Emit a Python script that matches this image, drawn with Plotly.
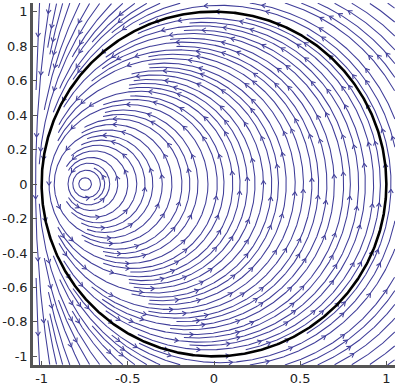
import numpy as np
import plotly.graph_objects as go

# ---- data ----
VORTEX_X = -0.75                 # point vortex on the real axis
IMAGE_X = 1.0 / VORTEX_X         # image vortex making |z| = 1 a streamline
# x where inner streamlines cross the positive side of the axis (y = 0)
INNER_INTERCEPTS = [-0.711, -0.659, -0.634, -0.605, -0.558, -0.50, -0.448, -0.40,
                    -0.355, -0.30, -0.244, -0.186, -0.14, -0.093, -0.035, 0.019,
                    0.058, 0.109, 0.151, 0.194, 0.238, 0.287, 0.335, 0.374, 0.419,
                    0.471, 0.519, 0.568, 0.607, 0.655, 0.698, 0.752, 0.791, 0.839,
                    0.878, 0.926, 0.965]
OUTER_INTERCEPTS = [1.027]
# seeds of outer streamlines on the right and top frame edges
OUTER_RIGHT_Y = [0.06, 0.14, 0.22, 0.30, 0.38, 0.46, 0.54, 0.62, 0.70, 0.78, 0.86, 0.94, 1.02]
OUTER_TOP_X = [1.0, 0.92, 0.84, 0.76, 0.68, 0.60, 0.52, 0.44, 0.36, 0.28, 0.20, 0.12,
               0.04, -0.04, -0.12, -0.20, -0.238, -0.314, -0.390, -0.459, -0.529,
               -0.593, -0.663, -0.721, -0.779, -0.837, -0.878, -0.913, -0.953,
               -0.983, -1.012, -1.034]
X_TICKS = [-1, -0.5, 0, 0.5, 1]
X_TICK_TEXT = ["-1", "-0.5", "0", "0.5", "1"]
Y_TICKS = [-1, -0.8, -0.6, -0.4, -0.2, 0, 0.2, 0.4, 0.6, 0.8, 1]
Y_TICK_TEXT = ["-1", "-0.8", "-0.6", "-0.4", "-0.2", "0", "0.2", "0.4", "0.6", "0.8", "1"]

LIM = 1.05
STREAM_COLOR = "#3F3D99"
a, b = VORTEX_X, IMAGE_X


def circle_through(x0, y0):
    """Streamline (Apollonian circle) of the vortex pair through (x0, y0)."""
    z0 = complex(x0, y0)
    k = abs(z0 - a) / abs(z0 - b)
    c = (a - k * k * b) / (1 - k * k)
    r = k * abs(a - b) / abs(1 - k * k)
    return c, r


# occupancy grids for evenly spaced streamlines
H = 0.004
G0 = -1.12
NG = int(2 * 1.12 / H) + 2
occ_test = np.zeros((NG, NG), bool)
occ_seed = np.zeros((NG, NG), bool)
D_TEST, D_SEED = 0.019, 0.03


def disk(rad):
    m = int(np.ceil(rad / H))
    dx, dy = np.meshgrid(np.arange(-m, m + 1), np.arange(-m, m + 1))
    sel = dx * dx + dy * dy <= (rad / H) ** 2
    return dx[sel], dy[sel]


disk_t, disk_s = disk(D_TEST), disk(D_SEED)


def to_idx(x, y):
    return np.round((x - G0) / H).astype(int), np.round((y - G0) / H).astype(int)


def stamp(grid, dsk, x, y):
    ix, iy = to_idx(x, y)
    X = (ix[:, None] + dsk[0][None, :]).ravel()
    Y = (iy[:, None] + dsk[1][None, :]).ravel()
    m = (X >= 0) & (X < NG) & (Y >= 0) & (Y < NG)
    grid[Y[m], X[m]] = True


def lookup(grid, x, y):
    ix, iy = to_idx(x, y)
    ix = np.clip(ix, 0, NG - 1)
    iy = np.clip(iy, 0, NG - 1)
    return grid[iy, ix]


segments = []


def add_line(x0, y0, force=False):
    c, r = circle_through(x0, y0)
    n = int(np.clip(2 * np.pi * r / 0.005, 400, 300000))
    th = np.linspace(0, 2 * np.pi, n, endpoint=False)
    xs = c + r * np.cos(th)
    ys = r * np.sin(th)
    inview = (np.abs(xs) <= LIM) & (np.abs(ys) <= LIM)
    ok = inview & ~lookup(occ_test, xs, ys)
    th0 = np.angle(complex(x0, y0) - c) % (2 * np.pi)
    s = int(round(th0 / (2 * np.pi) * n)) % n
    if not ok[s]:
        return
    if not force and lookup(occ_seed, xs[s:s + 1], ys[s:s + 1])[0]:
        return
    okr = np.roll(ok, -s)
    bad = np.where(~okr[1:])[0]
    if len(bad) == 0:
        idx = np.append(np.arange(n), 0)
    else:
        fwd = bad[0]
        okb = okr[::-1]
        limit = n - 1 - fwd
        badb = np.where(~okb[:limit])[0]
        back = badb[0] if len(badb) else limit
        idx = np.arange(s - back, s + fwd + 1) % n
    sx, sy, st = xs[idx], ys[idx], th[idx]
    if np.sum(np.hypot(np.diff(sx), np.diff(sy))) < 0.04:
        return
    stamp(occ_test, disk_t, sx, sy)
    stamp(occ_seed, disk_s, sx, sy)
    segments.append((sx, sy, st))


# separatrix (unit circle) first
add_line(1.0, 0.0, force=True)
for xr in INNER_INTERCEPTS:
    add_line(xr, 0.0, force=True)
for xr in OUTER_INTERCEPTS:
    add_line(xr, 0.0, force=True)
for yv in OUTER_RIGHT_Y:
    add_line(LIM - 0.002, yv)
    add_line(LIM - 0.002, -yv)
for xv in OUTER_TOP_X:
    add_line(xv, LIM - 0.002)
    add_line(xv, -(LIM - 0.002))

# build line and arrow traces
lx, ly, ax_, ay_ = [], [], [], []
ARROW_STEP, ARROW_LEN, ARROW_ANG = 0.36, 0.026, np.radians(32)
for i, (sx, sy, st) in enumerate(segments):
    lx += list(sx) + [None]
    ly += list(sy) + [None]
    ds = np.hypot(np.diff(sx), np.diff(sy))
    arc = np.concatenate([[0], np.cumsum(ds)])
    total = arc[-1]
    pos = (0.07 + 0.137 * i) % ARROW_STEP + 0.05
    while pos < total - 0.05:
        j = int(np.searchsorted(arc, pos))
        px, py, t = sx[j], sy[j], st[j]
        if abs(px) < LIM - 0.01 and abs(py) < LIM - 0.01:
            tx, ty = -np.sin(t), np.cos(t)
            for sgn in (1, -1):
                ca, sa = np.cos(sgn * ARROW_ANG), np.sin(sgn * ARROW_ANG)
                wx = px - ARROW_LEN * (tx * ca - ty * sa)
                wy = py - ARROW_LEN * (tx * sa + ty * ca)
                ax_ += [wx, px, None]
                ay_ += [wy, py, None]
        pos += ARROW_STEP

cc, rr = circle_through(1.0, 0.0)
tt = np.linspace(0, 2 * np.pi, 721)

fig = go.Figure()
fig.add_trace(go.Scatter(x=lx, y=ly, mode="lines",
                         line=dict(color=STREAM_COLOR, width=1.05),
                         hoverinfo="skip", showlegend=False))
fig.add_trace(go.Scatter(x=ax_, y=ay_, mode="lines",
                         line=dict(color=STREAM_COLOR, width=1.05),
                         hoverinfo="skip", showlegend=False))
fig.add_trace(go.Scatter(x=cc + rr * np.cos(tt), y=rr * np.sin(tt), mode="lines",
                         line=dict(color="black", width=2.6),
                         hoverinfo="skip", showlegend=False))

axis_common = dict(range=[-LIM, LIM], showgrid=False, zeroline=False,
                   showline=True, linecolor="#555555", linewidth=2.5,
                   ticks="inside", ticklen=4, tickcolor="#555555", tickwidth=1,
                   tickfont=dict(family="DejaVu Sans", size=13, color="#222222"),
                   mirror=False)
fig.update_xaxes(tickvals=X_TICKS, ticktext=X_TICK_TEXT, **axis_common)
fig.update_yaxes(tickvals=Y_TICKS, ticktext=Y_TICK_TEXT, **axis_common)
fig.update_layout(width=400, height=389,
                  margin=dict(l=33, r=5, t=3, b=24),
                  plot_bgcolor="white", paper_bgcolor="white")
fig.write_html("out.html")
